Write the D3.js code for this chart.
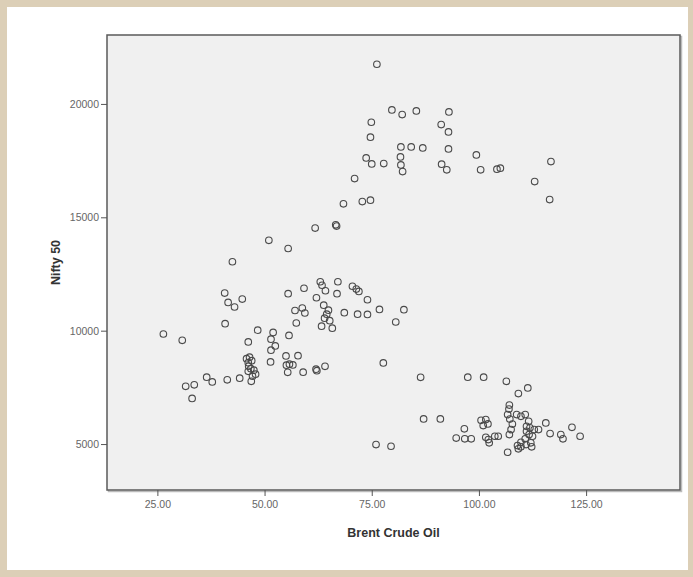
<!DOCTYPE html>
<meta charset="utf-8">
<style>
body { margin: 0; background: #dccfb7; }
#panel { position: absolute; left: 7px; top: 7px; width: 681px; height: 563px; background: #fff; }
svg { position: absolute; left: 0; top: 0; }
.tick text { font-family: "Liberation Sans", Arial, sans-serif; font-size: 10.5px; fill: #666; }
.tick line { stroke: #555; }
.label { font-family: "Liberation Sans", Arial, sans-serif; font-size: 12.5px; font-weight: bold; fill: #333; }
.pt { fill: none; stroke: #4a4a4a; stroke-width: 1.1; }
</style>
<div id="panel"></div>
<svg width="693" height="577"></svg>
<script src="https://cdn.jsdelivr.net/npm/d3@7"></script>
<script>

// Brent crude oil price (x) vs Nifty 50 (y)
var oil = [
  76.2, 79.7, 82.1, 85.4, 93.0, 74.9, 74.7, 91.2, 92.9, 81.8,
  84.2, 86.9, 92.9, 73.7, 75.0, 77.8, 81.7, 81.8, 82.2, 91.3,
  92.5, 99.4, 100.4, 104.2, 105.0, 116.8, 113.0, 116.5, 71.0, 68.4,
  72.8, 74.7, 61.8, 66.6, 66.8, 51.0, 55.5, 42.5,
  40.7, 44.8, 41.5, 43.0, 40.8, 55.5, 59.2, 63.0, 63.4, 64.2,
  67.1, 66.9, 62.1, 70.5, 71.4, 72.0, 74.0, 63.8, 64.9, 64.5,
  64.0, 65.2, 63.3, 65.8, 57.1, 58.8, 59.4, 57.4, 68.6, 71.7,
  74.0, 76.8, 82.5, 80.6, 77.7, 48.4, 52.0, 55.7, 51.5, 46.2,
  52.5, 51.5, 26.4, 30.8,
  45.8, 46.5, 46.2, 47.0, 46.3, 46.2, 46.8, 47.5, 47.9, 47.2,
  46.9, 51.4, 55.0, 57.8, 55.1, 55.8, 56.6, 55.4, 59.0, 62.0,
  62.2, 64.1, 36.5, 37.8, 41.3, 44.2, 31.6, 33.6, 33.1,
  76.0, 79.5, 86.4, 97.4, 101.1, 106.4, 109.2, 111.4, 87.1, 91.0,
  96.6, 94.7, 96.7, 98.2, 100.5, 101.6, 101.0, 102.1, 101.6, 102.2,
  103.7, 104.5, 102.4, 107.1, 107.0, 106.7, 107.2, 107.8, 107.5, 108.8,
  109.8, 110.8, 111.6, 111.1, 111.9, 112.9, 111.1, 111.7, 112.5, 110.8,
  109.8, 109.0, 111.0, 112.1, 112.3, 109.8, 109.2, 113.9, 115.6, 116.6,
  107.1, 106.7, 119.1, 119.6, 121.7, 123.6
];

var nifty = [
  21750, 19735, 19530, 19690, 19647, 19193, 18532, 19088, 18766, 18105,
  18105, 18061, 18017, 17620, 17356, 17370, 17664, 17312, 17017, 17343,
  17092, 17752, 17092, 17123, 17167, 17457, 16577, 15784, 16709, 15594,
  15696, 15757, 14524, 14669, 14612, 13986, 13625, 13039,
  11660, 11396, 11246, 11044, 10308, 11630, 11872, 12158, 12004, 11762,
  12158, 11630, 11453, 11960, 11837, 11731, 11365, 11123, 10903, 10727,
  10550, 10440, 10198, 10110, 10890, 11000, 10779, 10339, 10793, 10727,
  10718, 10938, 10925, 10383, 8577, 10022, 9925, 9793, 9625, 9506,
  9326, 9141, 9854, 9573,
  8766, 8832, 8590, 8678, 8436, 8207, 8326, 8260, 8084, 7995,
  7766, 8621, 8885, 8898, 8480, 8524, 8489, 8163, 8172, 8304,
  8238, 8427, 7951, 7740, 7832, 7907, 7546, 7612, 7013,
  4978, 4903, 7943, 7951, 7951, 7766, 7225, 7476, 6110, 6110,
  5670, 5264, 5229, 5229, 6048, 6079, 5815, 5890, 5300, 5198,
  5344, 5344, 5053, 6718, 6542, 6300, 6101, 5881, 5639, 6300,
  6225, 6300, 6004, 5784, 5714, 5639, 5564, 5418, 5344, 5229,
  5079, 4934, 4978, 5053, 4877, 4877, 4789, 5639, 5934, 5463,
  5418, 4639, 5418, 5229, 5740, 5344
];

var xTicks = [25, 50, 75, 100, 125];
var yTicks = [5000, 10000, 15000, 20000];

var data = oil.map(function(d, i) { return {x: d, y: nifty[i]}; });

var svg = d3.select("svg");
var plot = {left: 107, top: 35, right: 680, bottom: 490};

var x = d3.scaleLinear().domain([13.25, 146.9]).range([plot.left, plot.right]);
var y = d3.scaleLinear().domain([2974, 23040]).range([plot.bottom, plot.top]);

// plot frame
svg.append("rect")
    .attr("x", plot.left + 1.5).attr("y", plot.top + 1.5)
    .attr("width", plot.right - plot.left).attr("height", plot.bottom - plot.top)
    .attr("fill", "none").attr("stroke", "#bbb").attr("stroke-width", 1.5);
svg.append("rect")
    .attr("x", plot.left).attr("y", plot.top)
    .attr("width", plot.right - plot.left).attr("height", plot.bottom - plot.top)
    .attr("fill", "#f0f0f0").attr("stroke", "#5a5a5a").attr("stroke-width", 1.5);

svg.append("g")
    .attr("transform", "translate(0," + plot.bottom + ")")
    .call(d3.axisBottom(x).tickValues(xTicks).tickFormat(d3.format(".2f")).tickSize(6).tickPadding(5))
    .call(function(g) { g.select(".domain").remove(); });

svg.append("g")
    .attr("transform", "translate(" + plot.left + ",0)")
    .call(d3.axisLeft(y).tickValues(yTicks).tickFormat(d3.format("d")).tickSize(6).tickPadding(2))
    .call(function(g) { g.select(".domain").remove(); });

svg.selectAll(".pt")
    .data(data)
    .enter()
    .append("circle")
    .attr("class", "pt")
    .attr("cx", function(d) { return x(d.x); })
    .attr("cy", function(d) { return y(d.y); })
    .attr("r", 3.3);

svg.append("text")
    .attr("class", "label")
    .attr("x", (plot.left + plot.right) / 2)
    .attr("y", 537)
    .attr("text-anchor", "middle")
    .text("Brent Crude Oil");

svg.append("text")
    .attr("class", "label")
    .attr("transform", "translate(60," + (plot.top + plot.bottom) / 2 + ") rotate(-90)")
    .attr("text-anchor", "middle")
    .text("Nifty 50");

</script>
